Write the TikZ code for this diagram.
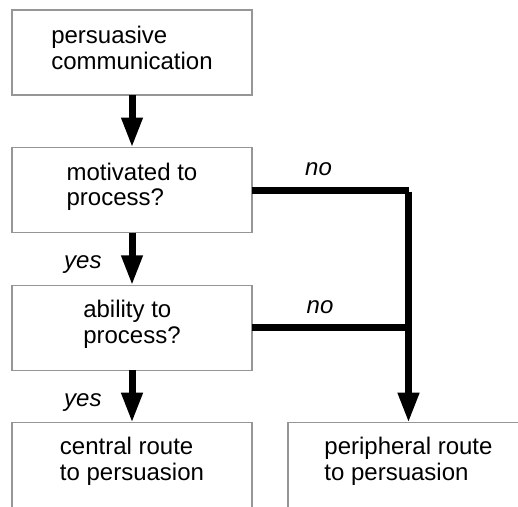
\documentclass[tikz,border=0pt]{standalone}
\usepackage{fontspec}
\setmainfont{Liberation Sans}
\usetikzlibrary{arrows.meta}
\definecolor{boxgray}{RGB}{150,150,150}
\begin{document}
\begin{tikzpicture}[x=1pt,y=-1pt,
  boxnode/.style={rectangle,minimum width=240pt,minimum height=85pt,inner sep=0pt,outer sep=0pt},
  boxline/.style={draw=boxgray,line width=1.2pt},
  boxtext/.style={anchor=base,align=left,inner sep=0pt,font=\fontsize{24}{25.5}\selectfont},
  lab/.style={anchor=base west,inner sep=0pt,font=\fontsize{24}{25.5}\selectfont\itshape},
  flow/.style={line width=7pt},
  arr/.style={flow,-{Triangle[width=20pt,length=30pt]}}]
\useasboundingbox (0,0) rectangle (518,506);
% boxes
\node[boxnode,boxline] (b1) at (132,52.5) {};
\node[boxnode,boxline] (b2) at (132,190) {};
\node[boxnode,boxline] (b3) at (132,327.8) {};
\node[boxnode] (c) at (132,465.2) {};
\node[boxnode,minimum width=241pt] (p) at (408.5,465.2) {};
\draw[boxline] (c.south west) -- (c.north west) -- (c.north east) -- (c.south east);
\draw[boxline] (p.south west) -- (p.north west) -- (p.north east);
% texts (anchor base = baseline of the last line)
\node[boxtext] (t1) at ([yshift=-59pt]b1.north) {persuasive\\communication};
\node[boxtext] (t2) at ([yshift=-58.2pt]b2.north) {motivated to\\process?};
\node[boxtext] (t3) at ([yshift=-57.7pt]b3.north) {ability to\\process?};
\node[boxtext] (t4) at ([yshift=-57.3pt]c.north) {central route\\to persuasion};
\node[boxtext] (t5) at ([yshift=-57.3pt]p.north) {peripheral route\\to persuasion};
% connectors
\draw[arr] (b1.south) -- (b2.north);
\draw[arr] (b2.south) -- (b3.north);
\draw[arr] (b3.south) -- (c.north);
\coordinate (k1) at (b2.east -| p.north);
\coordinate (k2) at (b3.east -| p.north);
\draw[flow] (b2.east) -- (k1);
\draw[flow] (b3.east) -- (k2);
\draw[arr] ([yshift=-1.5pt]k1) -- (p.north);
% labels
\node[lab] (y1) at (64,268) {yes};
\node[lab] (y2) at (64,406.7) {yes};
\node[lab] (n1) at (305,175) {no};
\node[lab] (n2) at (306.5,313) {no};
\end{tikzpicture}
\end{document}
